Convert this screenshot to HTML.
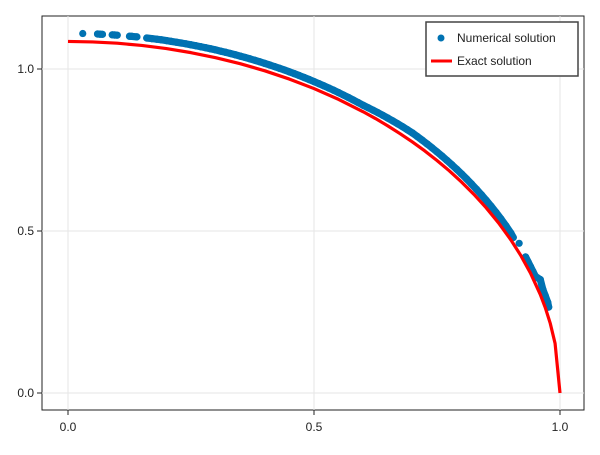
<!DOCTYPE html>
<html><head><meta charset="utf-8"><style>
body{margin:0;background:#fff;font-family:"Liberation Sans",sans-serif}
svg text{font-family:"Liberation Sans",sans-serif;font-size:12px;fill:#222}
</style></head><body>
<svg id="chart" width="600" height="450">
<rect x="42" y="16" width="542" height="394" fill="#fff" stroke="#222" stroke-width="1"/>
<g id="grid"></g>
<g id="ticks"></g>
<g id="series"></g>
<g>
<rect x="426" y="22" width="152" height="54" fill="#fff" stroke="#444" stroke-width="1.5"/>
<circle cx="441" cy="38" r="3.5" fill="#0072b2"/>
<text x="457" y="42">Numerical solution</text>
<line x1="431" y1="61" x2="452" y2="61" stroke="#f00" stroke-width="3"/>
<text x="457" y="65">Exact solution</text>
</g>
</svg>
<script>
const xTicks=[0,0.5,1.0];
const xTickLabels=["0.0","0.5","1.0"];
const yTicks=[0,0.5,1.0];
const yTickLabels=["0.0","0.5","1.0"];
const exactX=[0,0.05,0.1,0.15,0.2,0.25,0.3,0.35,0.4,0.45,0.5,0.55,0.6,0.625,0.65,0.675,0.7,0.725,0.75,0.775,0.8,0.825,0.85,0.875,0.9,0.92,0.94,0.96,0.97,0.98,0.99,1.0];
const exactY=[1.085,1.0836,1.0796,1.0727,1.0631,1.0505,1.035,1.0164,0.9944,0.9689,0.9396,0.9062,0.868,0.8471,0.8245,0.8004,0.7748,0.7474,0.7177,0.6857,0.651,0.6132,0.5716,0.5253,0.4729,0.4252,0.3702,0.3038,0.2638,0.2159,0.1531,0];
const numX=[0.03,0.06,0.065,0.07,0.09,0.095,0.10,0.125,0.13,0.14,0.16,0.17,0.18,0.19,0.20,0.21,0.22,0.23,0.24,0.25,0.26,0.27,0.28,0.29,0.30,0.31,0.32,0.33,0.34,0.35,0.36,0.37,0.38,0.39,0.40,0.41,0.42,0.43,0.44,0.45,0.46,0.47,0.48,0.49,0.50,0.51,0.52,0.53,0.54,0.55,0.56,0.57,0.58,0.59,0.60,0.61,0.62,0.63,0.64,0.65,0.66,0.67,0.68,0.69,0.70,0.71,0.72,0.73,0.74,0.75,0.76,0.77,0.78,0.79,0.80,0.81,0.82,0.83,0.84,0.85,0.86,0.87,0.88,0.89,0.90,0.905,0.917,0.93,0.935,0.94,0.945,0.95,0.96,0.965,0.97,0.975,0.977];
const numY=[1.1095,1.108,1.1075,1.107,1.1055,1.105,1.1044,1.101,1.1006,1.0991,1.0957,1.0938,1.092,1.09,1.0876,1.0852,1.0828,1.0802,1.0775,1.0747,1.0718,1.0687,1.0656,1.0623,1.0589,1.0553,1.0516,1.0478,1.0439,1.0398,1.0356,1.0312,1.0267,1.0221,1.0173,1.0124,1.0073,1.0021,0.9968,0.9913,0.9856,0.9798,0.9738,0.9676,0.9613,0.9548,0.9481,0.9413,0.9343,0.927,0.9196,0.912,0.9042,0.8962,0.888,0.8805,0.8729,0.865,0.8569,0.8485,0.8399,0.831,0.8219,0.8124,0.8027,0.7916,0.7803,0.7686,0.7566,0.7442,0.7314,0.7182,0.7046,0.6905,0.676,0.661,0.6453,0.629,0.6123,0.5947,0.5764,0.5572,0.5372,0.5162,0.4938,0.48,0.462,0.42,0.405,0.39,0.375,0.36,0.35,0.32,0.30,0.28,0.265];
const NS="http://www.w3.org/2000/svg";
function sx(v){return 68+v*492;}
function sy(v){return 393-v*324;}
const grid=document.getElementById('grid'),ticks=document.getElementById('ticks'),series=document.getElementById('series');
function mk(tag,attrs,parent){const e=document.createElementNS(NS,tag);for(const k in attrs)e.setAttribute(k,attrs[k]);parent.appendChild(e);return e;}
xTicks.forEach((t,i)=>{
 const g=mk('line',{x1:sx(t),x2:sx(t),y1:16,y2:410,stroke:'#e6e6e6','stroke-width':1},grid);
 
 
 const tk=mk('line',{x1:sx(t),x2:sx(t),y1:410,y2:415,stroke:'#222'},ticks);
 
 
 const tx=mk('text',{x:sx(t),y:431,'text-anchor':'middle'},ticks);tx.textContent=xTickLabels[i];
 
 
});
yTicks.forEach((t,i)=>{
 const g=mk('line',{x1:42,x2:584,y1:sy(t),y2:sy(t),stroke:'#e6e6e6','stroke-width':1},grid);
 
 
 const tk=mk('line',{x1:37,x2:42,y1:sy(t),y2:sy(t),stroke:'#222'},ticks);
 
 
 const tx=mk('text',{x:34,y:sy(t)+4,'text-anchor':'end'},ticks);tx.textContent=yTickLabels[i];
 
 
});
for(let i=1;i<numX.length;i++){
 if(numX[i]-numX[i-1]<=0.011){
  const s=mk('line',{x1:sx(numX[i-1]),y1:sy(numY[i-1]),x2:sx(numX[i]),y2:sy(numY[i]),stroke:'#0072b2','stroke-width':7.2,'stroke-linecap':'round'},series);
  
  
 }
}
numX.forEach((x,i)=>{
 const c=mk('circle',{cx:sx(x),cy:sy(numY[i]),r:3.6,fill:'#0072b2'},series);
 
 
});
const p=mk('polyline',{points:exactX.map((x,i)=>sx(x)+','+sy(exactY[i])).join(' '),fill:'none',stroke:'#f00','stroke-width':3.2,'stroke-linejoin':'round'},series);


</script>
</body></html>
